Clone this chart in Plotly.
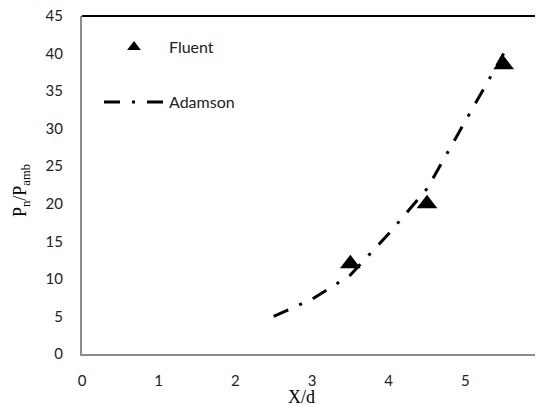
import plotly.graph_objects as go

# Data
fluent_x = [3.5, 4.5, 5.5]
fluent_y = [12, 20, 38.5]
adamson_x = [2.5, 3.0, 3.5, 4.0, 4.5, 5.0, 5.5]
adamson_y = [5, 7.3, 10.5, 16, 22, 31, 40]
x_ticks = [0, 1, 2, 3, 4, 5, 6]
y_ticks = [0, 5, 10, 15, 20, 25, 30, 35, 40, 45]

# page body has an 8px default margin; figure sized to fill the rest
OFF = 8
W, H = 543 - OFF, 407 - OFF
# plot area in window pixels: left 82, right 542, top 16, bottom 354
PL, PR, PT, PB = 82, 542, 16, 354
ML, MR, MT, MB = PL - OFF, (W + OFF) - PR, PT - OFF, (H + OFF) - PB
PW, PH = PR - PL, PB - PT


def px(x):
    return (x - PL) / PW


def py(y):
    return (PB - y) / PH


fig = go.Figure()
fig.add_trace(go.Scatter(
    x=adamson_x, y=adamson_y, mode="lines", name="Adamson",
    line=dict(color="black", width=3, dash="16px,12px,3px,12px"),
    legend="legend2",
))
fig.add_trace(go.Scatter(
    x=fluent_x, y=fluent_y, mode="markers", name="Fluent",
    marker=dict(symbol="triangle-up", size=18, color="black"),
    legend="legend",
))

tickfont = dict(family="Lato, sans-serif", size=15, color="#222")
legfont = dict(family="Lato, sans-serif", size=16, color="#222")

fig.update_layout(
    width=W, height=H,
    margin=dict(l=ML, r=MR, t=MT, b=MB, autoexpand=False),
    paper_bgcolor="white", plot_bgcolor="white",
    showlegend=True,
    legend=dict(x=px(99), y=py(47), xanchor="left", yanchor="middle",
                font=legfont, bgcolor="rgba(0,0,0,0)", itemwidth=60,
                itemsizing="constant"),
    legend2=dict(x=px(99), y=py(102), xanchor="left", yanchor="middle",
                 font=legfont, bgcolor="rgba(0,0,0,0)", itemwidth=60),
    xaxis=dict(range=[0, 6], tickvals=x_ticks, showgrid=False, zeroline=False,
               showline=True, linecolor="#8c8c8c", linewidth=2, ticks="",
               tickfont=tickfont, ticklabelstandoff=12, fixedrange=True,
               automargin=False, ticklabeloverflow="allow"),
    yaxis=dict(range=[0, 45], tickvals=y_ticks, showgrid=False, zeroline=False,
               showline=True, linecolor="#8c8c8c", linewidth=2, mirror=True,
               ticks="", tickfont=tickfont, ticklabelstandoff=14, fixedrange=True,
               automargin=False, ticklabeloverflow="allow"),
    shapes=[dict(type="line", xref="paper", yref="paper", x0=0, x1=1, y0=1, y1=1,
                 line=dict(color="black", width=2))],
    annotations=[
        dict(text="X/d", xref="paper", yref="paper",
             x=px(301), y=py(397),
             xanchor="center", yanchor="middle", showarrow=False,
             font=dict(family="Liberation Serif, serif", size=18, color="black")),
        dict(text="P<sub>n</sub>/P<sub>amb</sub>", xref="paper", yref="paper",
             x=px(21), y=py(190),
             xanchor="center", yanchor="middle", showarrow=False, textangle=-90,
             font=dict(family="Liberation Serif, serif", size=18, color="black")),
    ],
)

fig.write_html("out.html")
